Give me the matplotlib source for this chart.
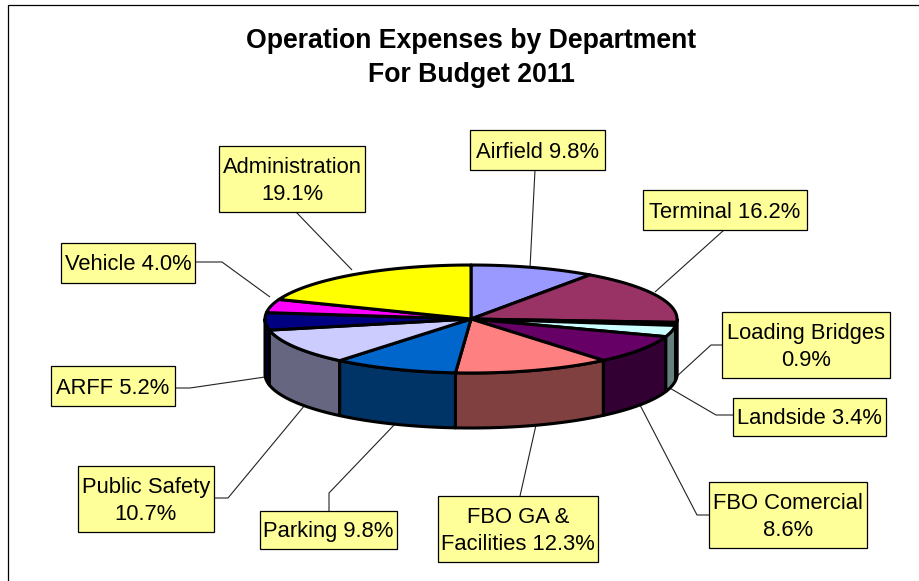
import numpy as np
import matplotlib
matplotlib.use("Agg")
import matplotlib.pyplot as plt
from matplotlib.patches import Polygon, Rectangle

plt.rcParams['font.family'] = ['Liberation Sans', 'DejaVu Sans']

departments = ["Airfield", "Terminal", "Loading Bridges", "Landside", "FBO Comercial", "FBO GA &\nFacilities",
               "Parking", "Public Safety", "ARFF", "Vehicle", "Administration"]
shares = [9.8, 16.2, 0.9, 3.4, 8.6, 12.3, 9.8, 10.7, 5.2, 4.0, 19.1]
# True means name and share go on two lines
two_lines = [False, False, True, False, True, False, False, True, False, False, True]

top_colors = ["#9999FF", "#993366", "#FFFFCC", "#CCFFFF", "#660066", "#FF8080",
              "#0066CC", "#CCCCFF", "#000080", "#FF00FF", "#FFFF00"]
side_colors = ["#4C4C80", "#4C1A33", "#808066", "#668080", "#330033", "#804040",
               "#003366", "#666680", "#000040", "#800080", "#808000"]

# label boxes: left, top, right, bottom (pixels)
boxes = [(470, 130, 605, 170), (643, 190, 807, 230), (722, 312, 890, 378), (733, 398, 886, 436),
         (709, 482, 867, 548), (438, 496, 598, 562), (260, 511, 397, 549), (78, 466, 214, 532),
         (51, 366, 175, 406), (61, 243, 195, 283), (219, 146, 365, 212)]
# leader lines, same order
leaders = [[(535, 170), (530, 268)],
           [(724, 230), (655, 292)],
           [(722, 345), (711, 345), (675, 378)],
           [(733, 415), (716, 415), (668, 387)],
           [(709, 515), (697, 515), (640, 405)],
           [(520, 496), (536, 425)],
           [(329, 511), (329, 493), (396, 423)],
           [(214, 498), (228, 498), (305, 405)],
           [(175, 388), (190, 388), (265, 377)],
           [(195, 262), (222, 262), (270, 297)],
           [(296, 212), (352, 270)]]

CX, CY = 471, 319
RX, RY = 206, 54
DEPTH = 55
EDGE = 2.2

fig = plt.figure(figsize=(9.2, 5.81), dpi=100)
ax = fig.add_axes([0, 0, 1, 1])
ax.set_xlim(0, 920)
ax.set_ylim(581, 0)
ax.axis('off')

# chart frame runs off the picture on the right and bottom
ax.add_patch(Rectangle((8.5, 4.5), 1000, 1000, fc='white', ec='black', lw=0.9, zorder=0))


def rim(a0, a1, dy=0):
    t = np.radians(np.linspace(a0, a1, max(int(abs(a1 - a0)) * 2, 2)))
    return np.column_stack([CX + RX * np.sin(t), CY - RY * np.cos(t) + dy])


for pts in leaders:
    xs, ys = zip(*pts)
    ax.plot(xs, ys, color='#222222', lw=0.8, zorder=1, solid_capstyle='butt')

edges = np.concatenate([[0], np.cumsum(shares)]) * 3.6

# walls only on the front half, right and left ends drawn first
order = sorted(range(len(shares)), key=lambda i: -abs((edges[i] + edges[i + 1]) / 2 - 180))
for i in order:
    a0 = max(edges[i], 90)
    a1 = min(edges[i + 1], 270)
    if a1 <= a0:
        continue
    up = rim(a0, a1)
    down = rim(a0, a1, DEPTH)[::-1]
    ax.add_patch(Polygon(np.vstack([up, down]), closed=True, fc=side_colors[i], ec='black',
                         lw=EDGE, joinstyle='round', zorder=2))

for i in range(len(shares)):
    arc = rim(edges[i], edges[i + 1])
    ax.add_patch(Polygon(np.vstack([[(CX, CY)], arc]), closed=True, fc=top_colors[i], ec='black',
                         lw=EDGE, joinstyle='round', zorder=3))

for name, share, two, box in zip(departments, shares, two_lines, boxes):
    x0, y0, x1, y1 = box
    ax.add_patch(Rectangle((x0, y0), x1 - x0, y1 - y0, fc='#FFFF99', ec='black', lw=0.9, zorder=4))
    if "\n" in name:
        first, second = name.split("\n")
        label = f"{first}\n{second} {share:.1f}%"
    elif two:
        label = f"{name}\n{share:.1f}%"
    else:
        label = f"{name} {share:.1f}%"
    ax.text((x0 + x1) / 2, (y0 + y1) / 2 + 2, label, ha='center', va='center', fontsize=15.8,
            linespacing=1.43, color='black', zorder=5)

ax.text(471, 58, "Operation Expenses by Department\nFor Budget 2011", ha='center', va='center',
        fontsize=19.2, fontweight='bold', linespacing=1.44, color='black')

fig.savefig("out.png", dpi=100)
